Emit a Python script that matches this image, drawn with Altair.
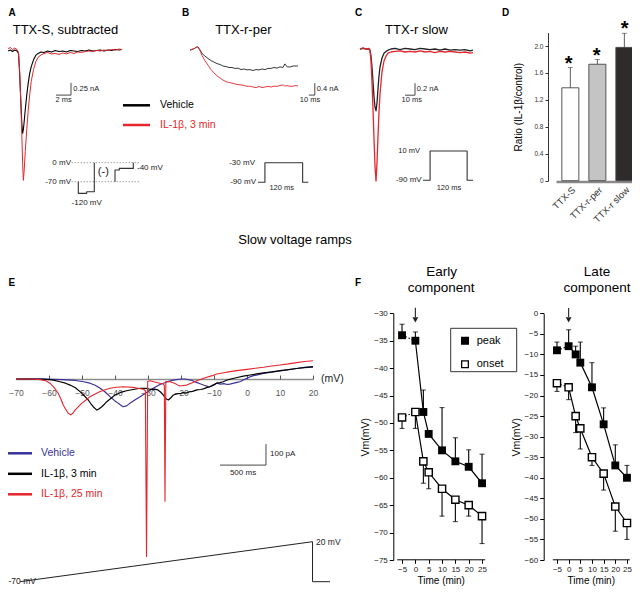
import altair as alt
import pandas as pd

# ---------------- values ----------------
# Panel A: TTX-S subtracted current (time ms, current nA)
A_T = [0, 0.3, 0.6, 0.9, 1.2, 1.4, 1.55, 1.7, 1.85, 1.95, 2.05, 2.15, 2.3, 2.5, 2.7, 2.9, 3.1, 3.4,
       3.7, 4.0, 4.4, 4.8, 5.3, 5.8, 6.3, 6.8, 7.3, 7.8, 8.3, 8.8, 9.3, 9.8, 10.3, 10.8, 11.3, 11.8,
       12.3, 12.8, 13.3, 13.8, 14.3, 14.8, 15.2]
A_VEH = [0.0, 0.02, -0.01, 0.02, 0.0, -0.05, -0.45, -1.0, -1.5, -1.68, -1.6, -1.45, -1.2, -0.9, -0.65,
         -0.45, -0.32, -0.18, -0.09, -0.05, -0.02, -0.03, 0.0, -0.02, 0.01, -0.01, 0.0, -0.02, 0.01, 0.0,
         -0.01, 0.01, 0.0, 0.02, 0.0, 0.01, 0.02, 0.0, 0.02, 0.01, 0.03, 0.02, 0.03]
A_IL = [0.05, 0.07, 0.03, 0.06, 0.03, -0.03, -0.4, -1.0, -1.75, -2.3, -2.64, -2.45, -2.05, -1.6, -1.2,
        -0.88, -0.62, -0.38, -0.22, -0.13, -0.08, -0.05, -0.03, -0.06, -0.05, -0.07, -0.04, -0.06, -0.03,
        -0.05, -0.02, -0.03, -0.01, 0.0, -0.01, 0.01, 0.0, 0.02, 0.01, 0.03, 0.02, 0.04, 0.03]
A_BAR_T = [6.4, 8.4, 8.4]
A_BAR_I = [-0.9, -0.9, -0.65]
A_P1_T = [6.3, 6.3, 14.7, 14.7, 22.3, 22.3]
A_P1_V = [-70, -113, -113, -107, -107, 0]
A_P2_T = [43, 43, 47.3, 47.3, 61.3, 61.3]
A_P2_V = [-70, -27, -27, -21, -21, 0]
A_LEVELS = [0, -70]
A_LEVEL_T = [-0.3, 68]
A_NAMES = ["Vehicle", "IL-1β, 3 min"]

# Panel B: TTX-r persistent current
B_T = [0, 3, 7, 10, 13, 17, 20, 25, 30, 35, 40, 45, 50, 55, 60, 65, 70, 75, 80, 85, 90, 95, 100, 105,
       110, 115, 120, 125, 130, 135, 140, 145, 150, 155, 158, 162, 167, 172, 177, 180]
B_VEH = [-0.07, -0.05, -0.02, 0.02, 0.04, -0.07, -0.18, -0.27, -0.35, -0.42, -0.47, -0.52, -0.55, -0.6,
         -0.62, -0.65, -0.65, -0.68, -0.67, -0.72, -0.7, -0.73, -0.72, -0.75, -0.72, -0.73, -0.7, -0.72,
         -0.68, -0.68, -0.65, -0.67, -0.63, -0.65, -0.53, -0.63, -0.63, -0.6, -0.6, -0.6]
B_IL = [-0.07, -0.05, -0.02, 0.02, 0.04, -0.1, -0.25, -0.43, -0.57, -0.72, -0.83, -0.93, -1.0, -1.07,
        -1.12, -1.15, -1.17, -1.2, -1.22, -1.23, -1.25, -1.28, -1.27, -1.3, -1.32, -1.28, -1.32, -1.3,
        -1.28, -1.3, -1.27, -1.28, -1.25, -1.23, -1.27, -1.25, -1.28, -1.27, -1.25, -1.27]
B_BAR_T = [198, 208, 208]
B_BAR_I = [-1.57, -1.57, -1.17]
B_P_T = [0, 22, 22, 142, 142, 160]
B_P_V = [-90, -90, -30, -30, -90, -90]

# Panel C: TTX-r slow current
C_T = [0, 3, 6, 9, 10, 11, 12, 13, 14, 15, 16, 17, 18, 19, 20, 22, 24, 26, 28, 31, 35, 40, 45, 50, 55,
       60, 65, 70, 75, 80, 85, 90, 95, 100, 105, 110, 113]
C_VEH = [0.0, 0.01, 0.0, 0.0, -0.02, -0.12, -0.3, -0.55, -0.8, -0.97, -1.03, -0.9, -0.66, -0.45, -0.3,
         -0.15, -0.07, -0.04, -0.02, 0.0, 0.01, -0.01, 0.01, 0.0, -0.01, 0.01, 0.0, -0.01, 0.0, -0.02,
         0.0, -0.02, -0.01, -0.02, -0.01, -0.03, -0.02]
C_IL = [0.0, 0.02, 0.0, 0.01, -0.03, -0.2, -0.55, -1.0, -1.5, -1.95, -2.2, -1.9, -1.45, -1.05, -0.75,
        -0.38, -0.2, -0.12, -0.07, -0.05, -0.04, -0.03, -0.05, -0.04, -0.05, -0.03, -0.05, -0.04, -0.06,
        -0.04, -0.05, -0.04, -0.05, -0.06, -0.05, -0.07, -0.06]
C_BAR_T = [45, 55, 55]
C_BAR_I = [-0.77, -0.77, -0.57]
C_P_T = [0, 23, 23, 143, 143, 162]
C_P_V = [-90, -90, 10, 10, -90, -90]

# Panel D: ratio IL-1b / control
D_CATS = ["TTX-S", "TTX-r-per", "TTX-r slow"]
D_MEAN = [1.38, 1.73, 1.98]
D_UPPER = [1.68, 1.80, 2.19]
D_FILL = ["#ffffff", "#c4c4c4", "#2f2b2b"]
D_TICKS = [0, 0.4, 0.8, 1.2, 1.6, 2.0]

# Panel E: slow voltage ramps (membrane potential mV, current pA)
E_VEH_V = [-70, -62, -56, -52, -49.5, -47.6, -46, -44.5, -43, -41.5, -40.2, -39, -38, -37.5, -36.5,
           -35.5, -34, -32.4, -31, -30, -28.4, -26.4, -24.3, -22, -20, -18.8, -17, -15.5, -14, -13, -12,
           -11.5, -10.5, -9.2, -8, -7, -6, -5.2, -4, -3, -2, -1, 0, 1, 2, 3.5, 5, 7.5, 10, 12.5, 15,
           17.5, 20]
E_VEH_I = [0, -1, -3, -7, -13, -20, -30, -44, -62, -84, -102, -116, -127, -132, -128, -116, -100, -84,
           -70, -60, -44, -26, -14, -4, 0, 0, -5, -15, -24, -30, -35, -38, -30, -20, -24, -22, -26, -24,
           -20, -16, -12, -4, 4, 11, 16, 21, 27, 33, 38, 44, 50, 54, 57]
E_IL3_V = [-70, -62, -59, -56.7, -55, -53.6, -52, -50.6, -49.3, -48.1, -47.3, -46.6, -45.5, -44.8, -44,
           -43.2, -42.5, -41.2, -40, -38.3, -36.5, -34.5, -32.4, -30.5, -29.4, -28, -27, -26.2, -25.4,
           -24.5, -23.8, -23, -22.3, -21, -20, -19.3, -18.5, -17.5, -16.5, -15.2, -14, -13, -12, -11.2,
           -10, -9.2, -8.2, -7.2, -6.2, -5.2, -3, -1.1, 1, 2.9, 5, 7.5, 10, 12.5, 15, 17.5, 20]
E_IL3_I = [0, -1, -4, -13, -20, -29, -42, -60, -80, -100, -118, -132, -148, -142, -132, -120, -108, -92,
           -76, -64, -56, -50, -44, -45, -49, -48, -52, -62, -76, -95, -100, -88, -76, -70, -68, -65, -67,
           -61, -59, -52, -50, -46, -40, -37, -28, -20, -17, -13, -6, -1, 7, 14, 19, 24, 29, 34, 40, 45,
           50, 55, 59]
E_IL25_V = [-70, -64, -62.7, -61, -59.7, -58.5, -57.2, -56.4, -55.7, -54.9, -54.2, -53.4, -52.7, -52.1,
            -51.1, -50.1, -48.8, -47.6, -46, -44.5, -43, -41.5, -39.5, -37.5, -36, -34.5, -33, -31.4,
            -30.8, -30.45, -30.1, -29.4, -28, -26.4, -25.4, -25.05, -24.85, -24.6, -23.3, -22, -21, -20.3,
            -19.3, -18.3, -16.5, -15.2, -13.7, -12.2, -10.5, -9.2, -7, -5.2, -2.5, 0, 2.5, 5, 7.5, 10,
            12.5, 15, 17.5, 20]
E_IL25_I = [0, -1, -3, -8, -20, -40, -68, -95, -124, -145, -163, -171, -162, -148, -132, -116, -100, -84,
            -71, -60, -51, -44, -39, -37, -38, -40, -44, -49, -56, -845, -12, -8, -14, -20, -24, -30,
            -582, -12, -13, -20, -28, -33, -31, -29, -18, -8, 0, 8, 16, 24, 30, 35, 41, 46, 51, 56, 62,
            67, 72, 78, 83, 87]
E_TICKS = [-70, -60, -50, -40, -30, -20, -10, 0, 10, 20]
E_NAMES = ["Vehicle", "IL-1β, 3 min", "IL-1β, 25 min"]
RAMP_T = [0, 3180, 3180, 3370]
RAMP_V = [-70, 20, -70, -70]
E_BAR_T = [2174, 2674, 2674]
E_BAR_I = [-410, -410, -310]

# Panel F: early / late component thresholds (time min, Vm mV)
F_T = [-5, 0, 3, 5, 10, 15, 20, 25]
F_XTICKS = [-5, 0, 5, 10, 15, 20, 25]
EARLY_PEAK = [-34, -35, -48, -52, -55, -57, -58, -61]
EARLY_PEAK_UP = [-32, -33.4, -44, -52, -47.2, -52.7, -54.9, -55.7]
EARLY_ONSET = [-49, -48, -57, -59, -62, -64, -65, -67]
EARLY_ONSET_LO = [-51, -51, -61, -62, -67, -68, -67, -72]
LATE_PEAK = [-9, -8, -10, -12, -18, -27, -37, -40]
LATE_PEAK_UP = [-7, -4, -8, -7, -12, -23, -32, -37]
LATE_ONSET = [-17, -18, -25, -28, -35, -39, -47, -51]
LATE_ONSET_LO = [-19, -21, -29, -33, -37, -43, -53, -55]
EARLY_YTICKS = [-30, -35, -40, -45, -50, -55, -60, -65, -70, -75]
LATE_YTICKS = [0, -5, -10, -15, -20, -25, -30, -35, -40, -45, -50, -55, -60]
ARROW_EARLY = [-29.0, -30.7, -31.2]
ARROW_LATE = [1.3, -0.9, -1.6]
F_KINDS = ["peak", "onset"]

# ---------------- layout helpers ----------------
FONT = "Liberation Sans"
RED = "#e5262c"
BLUE = "#383199"
W, H = 624, 578
OFF = 8  # page margin


def cx(x):
    return x - OFF


def cy(y):
    return y - OFF


def xs(domain, a, b):
    return alt.Scale(domain=domain, range=[cx(a), cx(b)], nice=False, zero=False)


def ys(domain, a, b):
    return alt.Scale(domain=domain, range=[cy(a), cy(b)], nice=False, zero=False)


def line(xv, yv, xsc, ysc, color="black", width=1.0, dash=None, xaxis=None, yaxis=None):
    df = pd.DataFrame({"x": list(xv), "y": list(yv), "i": list(range(len(xv)))})
    kw = dict(color=color, strokeWidth=width, strokeJoin="round")
    if dash is not None:
        kw["strokeDash"] = dash
    return alt.Chart(df).mark_line(**kw).encode(
        x=alt.X("x:Q", scale=xsc, axis=xaxis),
        y=alt.Y("y:Q", scale=ysc, axis=yaxis),
        order="i:Q",
    )


def text(s, x, y, size=8, color="black", align="left", baseline="middle", weight="normal"):
    df = pd.DataFrame({"s": [s]})
    return alt.Chart(df).mark_text(
        font=FONT, fontSize=size, color=color, align=align, baseline=baseline, fontWeight=weight
    ).encode(text="s:N", x=alt.value(max(cx(x), 0.5)), y=alt.value(min(max(cy(y), 0), H)))


def legend(names, colors, y0, y1, xl0, xl1, xt, size, lw):
    df = pd.DataFrame({"name": names})
    ysc = alt.Scale(type="point", domain=names, range=[cy(y0), cy(y1)], padding=0)
    csc = alt.Scale(domain=names, range=colors)
    r = alt.Chart(df).mark_rule(strokeWidth=lw).encode(
        x=alt.value(max(cx(xl0), 0)), x2=alt.value(cx(xl1)),
        y=alt.Y("name:N", scale=ysc, axis=None),
        color=alt.Color("name:N", scale=csc, legend=None),
    )
    t = alt.Chart(df).mark_text(font=FONT, fontSize=size, align="left", baseline="middle").encode(
        x=alt.value(cx(xt)),
        y=alt.Y("name:N", scale=ysc, axis=None),
        text="name:N",
        color=alt.Color("name:N", scale=csc, legend=None),
    )
    return [r, t]


L = []

# ---------------- panel A ----------------
ax_ = xs([0, 16], 8, 128)
ay_ = ys([-3, 0.5], 198, 26.5)
L.append(line(A_T, A_VEH, ax_, ay_, "black", 1.1))
L.append(line(A_T, A_IL, ax_, ay_, RED, 1.0))
L.append(line(A_BAR_T, A_BAR_I, ax_, ay_, "#333", 0.9))
apx = xs([0, 70], 72, 142)
apy = ys([-70, 0], 181.7, 162.7)
for lev in A_LEVELS:
    L.append(line(A_LEVEL_T, [lev, lev], apx, apy, "#555", 0.8, dash=[1, 2]))
L.append(line(A_P1_T, A_P1_V, apx, apy, "#333", 1.1))
L.append(line(A_P2_T, A_P2_V, apx, apy, "#333", 1.1))
L += legend(A_NAMES, ["black", RED], 105.3, 125, 123, 150, 160, 10.5, 2.5)

# ---------------- panel B ----------------
bx_ = xs([0, 220], 190, 322)
by_ = ys([-2, 0.5], 108, 33)
L.append(line(B_T, B_VEH, bx_, by_, "#222", 0.9))
L.append(line(B_T, B_IL, bx_, by_, RED, 0.9))
L.append(line(B_BAR_T, B_BAR_I, bx_, by_, "#333", 0.9))
L.append(line(B_P_T, B_P_V, xs([0, 160], 258, 308.3), ys([-90, -30], 182.3, 162.7), "#333", 1.1))

# ---------------- panel C ----------------
cx_ = xs([0, 120], 360, 480)
cy_ = ys([-2.5, 0.3], 199, 31)
L.append(line(C_T, C_VEH, cx_, cy_, "#222", 1.3))
L.append(line(C_T, C_IL, cx_, cy_, RED, 1.3))
L.append(line(C_BAR_T, C_BAR_I, cx_, cy_, "#333", 0.9))
L.append(line(C_P_T, C_P_V, xs([0, 162], 423, 473), ys([-90, 10], 180.3, 151), "#333", 1.1))

# ---------------- panel D ----------------
d_df = pd.DataFrame({"cat": D_CATS, "mean": D_MEAN, "up": D_UPPER, "base": [0.0] * 3})
d_x = alt.Scale(domain=D_CATS, range=[cx(556), cx(640)], paddingInner=0.37, paddingOuter=0.24, align=0.45)
d_y = ys([0, 2.2], 180.7, 32.6)
d_xaxis = alt.Axis(orient="bottom", offset=cy(181.5) - H, labelAngle=-45, ticks=False, domainColor="#8a8a8a",
                   domainWidth=2.5, labelFontSize=9.5, labelColor="#333", labelPadding=3, title=None,
                   labelFont=FONT, grid=False)
d_yaxis = alt.Axis(orient="left", offset=-cx(548), values=D_TICKS,
                   labelExpr="datum.value == 0 ? '0' : format(datum.value, '.1f')",
                   labelFontSize=6.5, labelColor="#333", tickSize=3, tickColor="#333", domainColor="#333",
                   title="Ratio (IL-1β/control)", titleFontSize=10, titleFontWeight="normal",
                   titlePadding=10, titleFont=FONT, labelFont=FONT, grid=False)
L.append(alt.Chart(d_df).mark_bar(stroke="#444", strokeWidth=0.9).encode(
    x=alt.X("cat:N", scale=d_x, sort=D_CATS, axis=d_xaxis),
    y=alt.Y("mean:Q", scale=d_y, axis=d_yaxis),
    y2="base:Q",
    fill=alt.Fill("cat:N", scale=alt.Scale(domain=D_CATS, range=D_FILL), legend=None),
))
L.append(alt.Chart(d_df).mark_rule(color="#333", strokeWidth=0.8).encode(
    x=alt.X("cat:N", scale=d_x, sort=D_CATS, axis=None),
    y=alt.Y("mean:Q", scale=d_y, axis=None), y2="up:Q"))
L.append(alt.Chart(d_df).mark_tick(color="#333", thickness=0.8, size=5, orient="horizontal").encode(
    x=alt.X("cat:N", scale=d_x, sort=D_CATS, axis=None),
    y=alt.Y("up:Q", scale=d_y, axis=None)))
L.append(alt.Chart(d_df).mark_text(text="*", font=FONT, fontSize=20, fontWeight="bold",
                                   baseline="alphabetic", dy=2).encode(
    x=alt.X("cat:N", scale=d_x, sort=D_CATS, axis=None),
    y=alt.Y("up:Q", scale=d_y, axis=None)))

# ---------------- panel E ----------------
ex_ = xs([-70, 20], 16, 313)
ey_ = ys([-1000, 200], 589, 337)
e_bottom = alt.Axis(orient="bottom", offset=cy(379) - H, values=E_TICKS, ticks=False, tickSize=0,
                    labelPadding=9, labelFontSize=8.5, labelColor="#555", domainColor="#8f8f8f",
                    domainWidth=1.5, title=None, grid=False, labelFont=FONT, labelFlush=False)
e_top = alt.Axis(orient="top", offset=-cy(379), values=E_TICKS[1:], labels=False, domain=False,
                 tickSize=4, tickColor="#555", tickWidth=1, title=None, grid=False)
L.append(line(E_VEH_V, E_VEH_I, ex_, ey_, BLUE, 1.2, xaxis=e_bottom))
L.append(line(E_IL3_V, E_IL3_I, ex_, ey_, "black", 1.2, xaxis=e_top))
L.append(line(E_IL25_V, E_IL25_I, ex_, ey_, RED, 1.1))
rx_ = xs([0, 3370], 20, 330)
L.append(line(RAMP_T, RAMP_V, rx_, ys([-70, 20], 581.7, 541.7), "#222", 1.0))
L.append(line(E_BAR_T, E_BAR_I, rx_, ey_, "#333", 0.9))
L += legend(E_NAMES, [BLUE, "black", RED], 453.3, 494.3, 5, 32, 41, 10.5, 2.5)


# ---------------- panel F ----------------
def f_panel(peak, peak_up, onset, onset_lo, ydom, yticks, xa, xb, yaxis_x, arrow):
    fx = xs([-7, 26], xa, xb)
    fy = ys(ydom, 560, 313.3)
    df = pd.DataFrame({"t": F_T, "peak": peak, "pu": peak_up, "onset": onset, "ol": onset_lo})
    xaxis = alt.Axis(orient="bottom", offset=cy(559.3) - H, values=F_XTICKS, tickSize=4, labelFontSize=8,
                     labelColor="#222", domainColor="black", tickColor="black", title="Time (min)",
                     titleFontSize=10, titleFontWeight="normal", titlePadding=2, grid=False,
                     labelPadding=2, labelFlush=False, labelFont=FONT, titleFont=FONT)
    yaxis = alt.Axis(orient="left", offset=-cx(yaxis_x), values=yticks, tickSize=4,
                     labelFontSize=8, labelColor="#222", domainColor="black", tickColor="black",
                     title="Vm(mV)", titleFontSize=10.5, titleFontWeight="normal", titlePadding=3,
                     grid=False, labelPadding=2, labelFont=FONT, titleFont=FONT)
    out = []
    first, rest = df.iloc[:2], df.iloc[1:]
    for k, col in enumerate(["peak", "onset"]):
        out.append(alt.Chart(first).mark_line(color="black", strokeWidth=1.1, strokeDash=[1.5, 2]).encode(
            x=alt.X("t:Q", scale=fx, axis=xaxis if k == 0 else None),
            y=alt.Y(col + ":Q", scale=fy, axis=yaxis if k == 0 else None)))
        out.append(alt.Chart(rest).mark_line(color="black", strokeWidth=1.2).encode(
            x=alt.X("t:Q", scale=fx, axis=None), y=alt.Y(col + ":Q", scale=fy, axis=None)))
    for col, err in [("peak", "pu"), ("onset", "ol")]:
        out.append(alt.Chart(df).mark_rule(color="black", strokeWidth=1.1).encode(
            x=alt.X("t:Q", scale=fx, axis=None), y=alt.Y(col + ":Q", scale=fy, axis=None), y2=err + ":Q"))
        out.append(alt.Chart(df).mark_tick(color="black", thickness=1.1, size=5, orient="horizontal").encode(
            x=alt.X("t:Q", scale=fx, axis=None), y=alt.Y(err + ":Q", scale=fy, axis=None)))
    out.append(alt.Chart(df).mark_square(size=62, filled=True, color="black", opacity=1).encode(
        x=alt.X("t:Q", scale=fx, axis=None), y=alt.Y("peak:Q", scale=fy, axis=None)))
    out.append(alt.Chart(df).mark_square(size=52, filled=True, fill="white", stroke="black",
                                         strokeWidth=1.4, opacity=1).encode(
        x=alt.X("t:Q", scale=fx, axis=None), y=alt.Y("onset:Q", scale=fy, axis=None)))
    adf = pd.DataFrame({"t": [0], "a": [arrow[0]], "b": [arrow[1]], "c": [arrow[2]]})
    out.append(alt.Chart(adf).mark_rule(color="#222", strokeWidth=1.1).encode(
        x=alt.X("t:Q", scale=fx, axis=None), y=alt.Y("a:Q", scale=fy, axis=None), y2="b:Q"))
    out.append(alt.Chart(adf).mark_point(shape="triangle-down", filled=True, size=34, color="#222",
                                         opacity=1).encode(
        x=alt.X("t:Q", scale=fx, axis=None), y=alt.Y("c:Q", scale=fy, axis=None)))
    return out


L += f_panel(EARLY_PEAK, EARLY_PEAK_UP, EARLY_ONSET, EARLY_ONSET_LO, [-75, -30], EARLY_YTICKS,
             396.7, 484.7, 393.3, ARROW_EARLY)
L += f_panel(LATE_PEAK, LATE_PEAK_UP, LATE_ONSET, LATE_ONSET_LO, [-60, 0], LATE_YTICKS,
             552.3, 629.3, 543.7, ARROW_LATE)

# F legend box
L.append(alt.Chart(pd.DataFrame({"a": [0]})).mark_rect(fill="white", stroke="black", strokeWidth=0.8).encode(
    x=alt.value(cx(450.7)), x2=alt.value(cx(516.7)), y=alt.value(cy(328.3)), y2=alt.value(cy(371.7))))
kdf = pd.DataFrame({"kind": F_KINDS})
ksc = alt.Scale(type="point", domain=F_KINDS, range=[cy(340.7), cy(364.3)], padding=0)
L.append(alt.Chart(kdf).mark_square(size=45, filled=True, stroke="black", strokeWidth=1.3, opacity=1).encode(
    x=alt.value(cx(465)), y=alt.Y("kind:N", scale=ksc, axis=None),
    fill=alt.Fill("kind:N", scale=alt.Scale(domain=F_KINDS, range=["black", "white"]), legend=None)))
L.append(alt.Chart(kdf).mark_text(font=FONT, fontSize=11, align="left", baseline="middle").encode(
    x=alt.value(cx(476.7)), y=alt.Y("kind:N", scale=ksc, axis=None), text="kind:N"))

# ---------------- texts ----------------
for s, x in [("A", 0), ("B", 182), ("C", 355), ("D", 502)]:
    L.append(text(s, x, 8, 10, weight="bold", baseline="top"))
for s, x in [("E", 0), ("F", 355)]:
    L.append(text(s, x, 283, 10, weight="bold"))
L.append(text("TTX-S, subtracted", 12.7, 30, 13))
L.append(text("TTX-r-per", 243.3, 30, 13, align="center"))
L.append(text("TTX-r slow", 416.5, 30, 13, align="center"))
L.append(text("Slow voltage ramps", 295, 240, 13, align="center"))
L.append(text("Early", 441.5, 272, 13.5, align="center"))
L.append(text("component", 441.2, 288, 13.5, align="center"))
L.append(text("Late", 597, 272, 13.5, align="center"))
L.append(text("component", 597, 288, 13.5, align="center"))
# scale bar labels
L.append(text("0.25 nA", 73.3, 89.3, 7.5, "#222"))
L.append(text("2 ms", 63.5, 99.7, 7.5, "#222", align="center"))
L.append(text("0.4 nA", 316.7, 88.7, 7.5, "#222"))
L.append(text("10 ms", 310, 100, 7.5, "#222", align="center"))
L.append(text("0.2 nA", 416.7, 89, 7.5, "#222"))
L.append(text("10 ms", 411.7, 100, 7.5, "#222", align="center"))
L.append(text("100 pA", 270, 454, 8, "#222"))
L.append(text("500 ms", 243, 473.3, 8, "#222", align="center"))
L.append(text("(mV)", 321, 379, 10.5, "#222"))
L.append(text("20 mV", 316, 541.7, 8.5, "#222"))
L.append(text("-70 mV", 2, 586, 8.5, "#222", baseline="bottom"))
# protocol labels
L.append(text("0 mV", 71, 162.7, 8, "#222", align="right"))
L.append(text("-70 mV", 71, 181.7, 8, "#222", align="right"))
L.append(text("(-)", 103.3, 172.3, 11, "#222", align="center"))
L.append(text("-40 mV", 137, 168, 8, "#222"))
L.append(text("-120 mV", 86.7, 202.7, 8, "#222", align="center"))
L.append(text("-30 mV", 255, 163, 8, "#222", align="right"))
L.append(text("-90 mV", 256, 182.3, 8, "#222", align="right"))
L.append(text("120 ms", 281.7, 188, 7.5, "#222", align="center"))
L.append(text("10 mV", 420, 151, 7.5, "#222", align="right"))
L.append(text("-90 mV", 421.7, 180.3, 8, "#222", align="right"))
L.append(text("120 ms", 449, 187.7, 7.5, "#222", align="center"))

chart = alt.layer(*L).resolve_scale(
    x="independent", y="independent", color="independent", fill="independent"
).properties(
    width=W, height=H, padding=0, autosize=alt.AutoSizeParams(type="none")
).configure(font=FONT).configure_view(stroke=None)

chart.save("out.html", embed_options={"renderer": "svg", "actions": False})
